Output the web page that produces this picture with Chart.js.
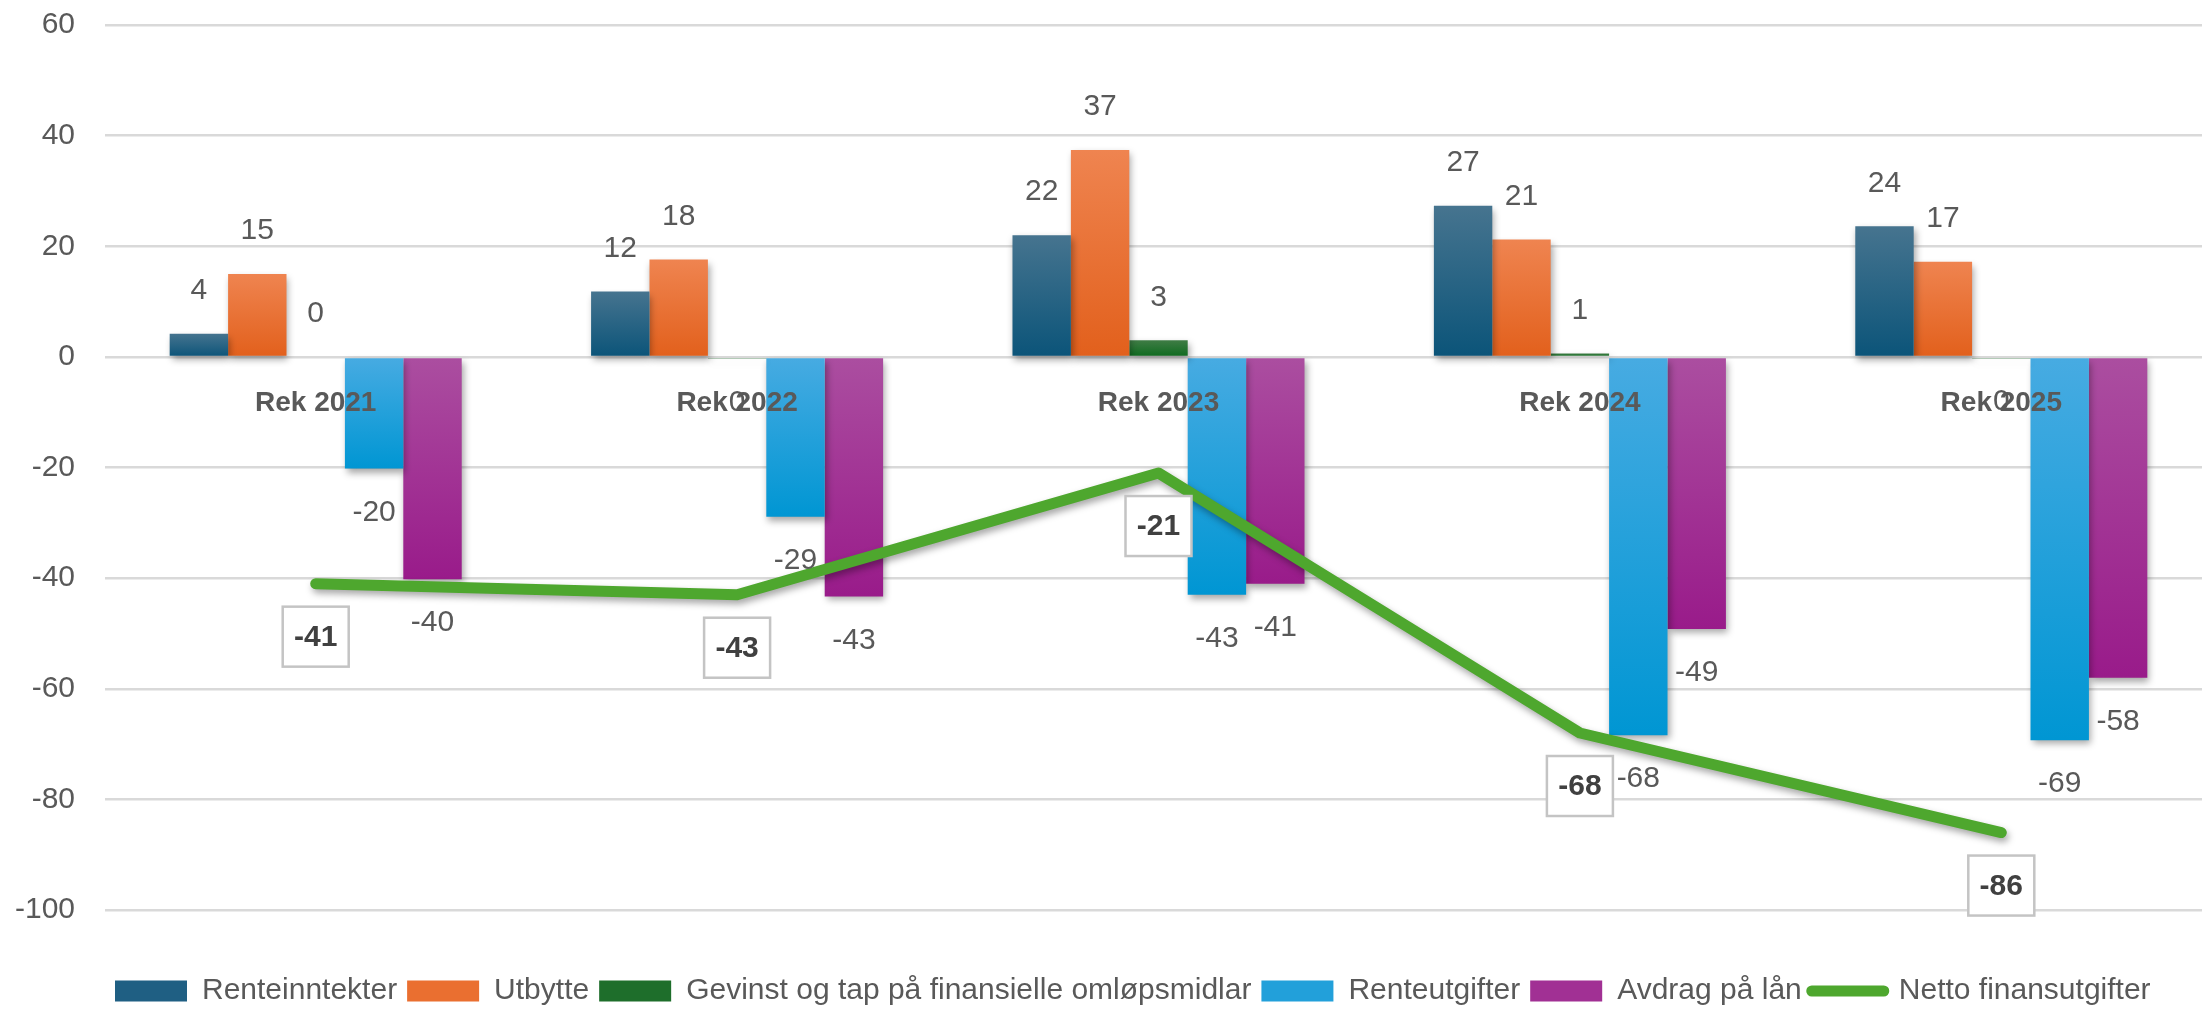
<!DOCTYPE html>
<html>
<head>
<meta charset="utf-8">
<script src="https://cdn.jsdelivr.net/npm/chart.js@4/dist/chart.umd.min.js"></script>
<style>
  html, body { margin: 0; padding: 0; background: #fff; overflow: hidden; }
  #wrap { width: 2212px; height: 1016px; }
</style>
</head>
<body>
<div id="wrap"><canvas id="grafFinans"></canvas></div>
<script>
// Data
const kategorier = ["Rek 2021", "Rek 2022", "Rek 2023", "Rek 2024", "Rek 2025"];
const renteinntekter = [4.2, 11.8, 22.0, 27.3, 23.6];
const utbytte = [15.0, 17.6, 37.4, 21.2, 17.2];
const gevinstTap = [0, -0.3, 3.0, 0.6, -0.2];
const renteutgifter = [-20.2, -28.9, -43.0, -68.4, -69.3];
const avdrag = [-40.2, -43.3, -41.0, -49.2, -58.0];
const netto = [-41, -43, -21, -68, -86];
const yTicks = [60, 40, 20, 0, -20, -40, -60, -80, -100];

const FONT = "'Liberation Sans', Arial, sans-serif";
const TEXT = "#595959";

// gradient per stolpe, lys topp -> mørk bunn
function stolpeGradient(topp, bunn) {
  return (c) => {
    const chart = c.chart;
    if (!chart.chartArea || c.type !== "data") return bunn;
    const y = chart.scales.y;
    const v = c.raw;
    const a = Math.min(y.getPixelForValue(0), y.getPixelForValue(v));
    const b = Math.max(y.getPixelForValue(0), y.getPixelForValue(v));
    if (b - a < 2) return bunn;
    const g = chart.ctx.createLinearGradient(0, a, 0, b);
    g.addColorStop(0, topp);
    g.addColorStop(1, bunn);
    return g;
  };
}

const legendFarger = ["#1f5f83", "#ea6f30", "#1e6e2b", "#22a0da", "#a13094", "#4ea72e"];

// skygge under stolpar og linje
const skygge = {
  id: "skygge",
  beforeDatasetDraw(chart) {
    const c = chart.ctx;
    c.save();
    c.shadowColor = "rgba(0,0,0,0.35)";
    c.shadowBlur = 7;
    c.shadowOffsetX = 2;
    c.shadowOffsetY = 4;
  },
  afterDatasetDraw(chart) {
    chart.ctx.restore();
  }
};

// dataetikettar
const etikettar = {
  id: "etikettar",
  afterDatasetsDraw(chart) {
    const c = chart.ctx;
    c.save();
    c.textAlign = "center";
    c.textBaseline = "middle";
    chart.data.datasets.forEach((ds, i) => {
      const meta = chart.getDatasetMeta(i);
      meta.data.forEach((el, j) => {
        const v = ds.data[j];
        const txt = String(Math.round(v) || 0);
        if (ds.type === "line") {
          const cy = el.y + 53;
          c.fillStyle = "#ffffff";
          c.fillRect(el.x - 33, cy - 30, 66, 60);
          c.strokeStyle = "#c4c4c4";
          c.lineWidth = 2.5;
          c.strokeRect(el.x - 33, cy - 30, 66, 60);
          c.font = "bold 30px " + FONT;
          c.fillStyle = "#404040";
          c.fillText(txt, el.x, cy + 1);
        } else {
          c.font = "30px " + FONT;
          c.fillStyle = TEXT;
          const y = v >= 0 ? el.y - 43 : el.y + 44;
          c.fillText(txt, el.x, y);
        }
      });
    });
    c.restore();
  }
};

const ctx = document.getElementById("grafFinans").getContext("2d");
new Chart(ctx, {
  data: {
    labels: kategorier,
    datasets: [
      { type: "bar", label: "Renteinntekter", data: renteinntekter, order: 1,
        backgroundColor: stolpeGradient("#46748f", "#0b5479") },
      { type: "bar", label: "Utbytte", data: utbytte, order: 1,
        backgroundColor: stolpeGradient("#ef8450", "#e2601c") },
      { type: "bar", label: "Gevinst og tap på finansielle omløpsmidlar", data: gevinstTap, order: 1,
        backgroundColor: stolpeGradient("#3f7c45", "#0d6a1e") },
      { type: "bar", label: "Renteutgifter", data: renteutgifter, order: 1,
        backgroundColor: stolpeGradient("#47abe2", "#0096d3") },
      { type: "bar", label: "Avdrag på lån", data: avdrag, order: 1,
        backgroundColor: stolpeGradient("#ab4ea0", "#991b8a") },
      { type: "line", label: "Netto finansutgifter", data: netto, order: 0,
        borderColor: "#4ea72e", backgroundColor: "#4ea72e", borderWidth: 11,
        pointRadius: 0, tension: 0, borderCapStyle: "round", borderJoinStyle: "round" }
    ]
  },
  options: {
    responsive: true,
    maintainAspectRatio: false,
    animation: false,
    devicePixelRatio: 1,
    layout: { padding: { top: 25, left: 0, right: 0, bottom: 0 } },
    datasets: {
      bar: { categoryPercentage: 0.693, barPercentage: 1.0, borderWidth: 0 }
    },
    scales: {
      x: {
        position: { y: 0 },
        grid: { display: false, drawTicks: false },
        border: { display: false },
        ticks: { z: 1, color: TEXT, padding: 30, font: { family: FONT, size: 28, weight: "bold" } }
      },
      y: {
        min: -100,
        max: 60,
        afterBuildTicks: (a) => { a.ticks = yTicks.map(v => ({ value: v })); },
        grid: { color: "#d9d9d9", lineWidth: 2.5, drawTicks: true, tickLength: 30, tickColor: "rgba(0,0,0,0)" },
        border: { display: false },
        ticks: { color: TEXT, padding: 0, font: { family: FONT, size: 30 } },
        afterFit: (a) => { a.width = 105; }
      }
    },
    plugins: {
      tooltip: { enabled: false },
      legend: {
        position: "bottom",
        fullSize: false,
        align: "start",
        title: { display: true, text: "", font: { size: 10 }, padding: { top: 44, bottom: 0 } },
        labels: {
          usePointStyle: true,
          pointStyleWidth: 72,
          boxHeight: 21,
          padding: 10,
          color: TEXT,
          font: { family: FONT, size: 30 },
          sort: (a, b) => a.datasetIndex - b.datasetIndex,
          generateLabels: (chart) => chart.data.datasets.map((ds, i) => ({
            text: ds.label,
            fillStyle: legendFarger[i],
            strokeStyle: legendFarger[i],
            lineWidth: ds.type === "line" ? 11 : 0,
            lineCap: "round",
            pointStyle: ds.type === "line" ? "line" : "rect",
            fontColor: TEXT,
            hidden: false,
            datasetIndex: i
          }))
        }
      }
    }
  },
  plugins: [skygge, etikettar]
});
</script>
</body>
</html>
